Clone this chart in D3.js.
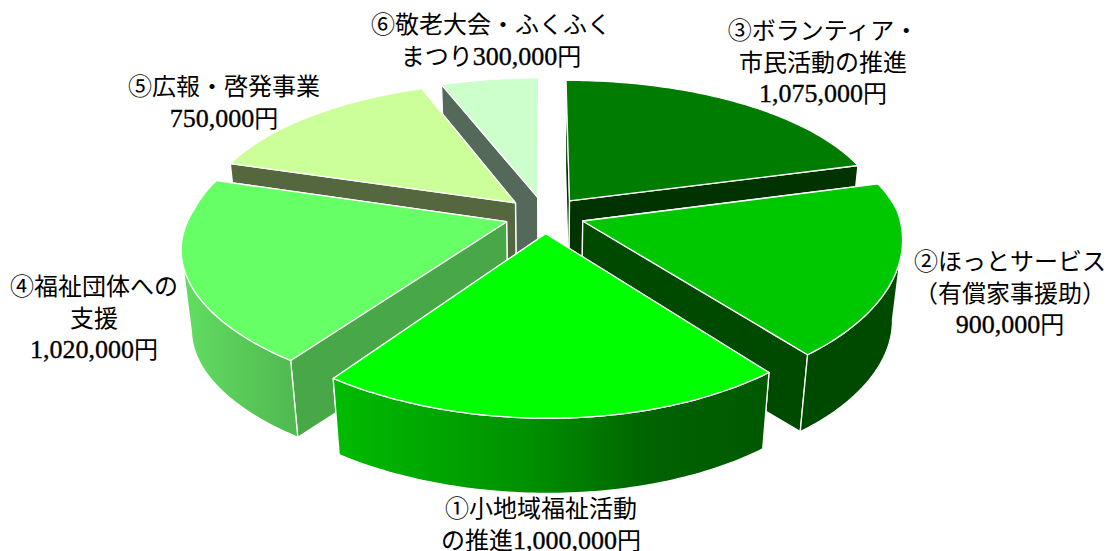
<!DOCTYPE html>
<html>
<head>
<meta charset="utf-8">
<script src="https://cdn.jsdelivr.net/npm/d3@7"></script>
<style>
  html, body { margin: 0; padding: 0; background: #fff; }
  text { font-family: "Noto Sans CJK JP", sans-serif; fill: #000; }
  .num { font-family: "Liberation Serif", serif; font-size: 26px; stroke: #000; stroke-width: .35px; }
</style>
</head>
<body>
<div id="chart"></div>
<script>
// clockwise from 12 o'clock, same order as the picture
const categories = ["③", "②", "①", "④", "⑤", "⑥"];
const values = [1075000, 900000, 1000000, 1020000, 750000, 300000];
const topColors = ["#007c00", "#00c800", "#00ff00", "#66ff66", "#ccff99", "#ccffcc"];
const sideColors = ["#003300", "#004a00", "#006600", "#48a848", "#55673f", "#55695a"];
// back slices first so the near ones cover them
const drawOrder = ["⑥", "⑤", "③", "④", "②", "①"];

const labelLines = [
    ["③ボランティア・", "市民活動の推進", "1,075,000円"],
    ["②ほっとサービス", "（有償家事援助）", "900,000円"],
    ["①小地域福祉活動", "の推進1,000,000円"],
    ["④福祉団体への", "支援", "1,020,000円"],
    ["⑤広報・啓発事業", "750,000円"],
    ["⑥敬老大会・ふくふく", "まつり300,000円"]
];
const labelX = [823, 1010, 541, 94, 224, 491];
const labelY = [39, 270, 517, 295, 95, 33];

const width = 1107;
const height = 551;

// tilted pie projection
const cx = 545, cy = 210;
const rx = 314, ry = 143.5;
const perspX = 0.17, perspY = 0.198;
const explode = 0.128;
const depth = 81, depthScale = 0.972;
const apexDrop = 5;   // apex sits a bit lower than the rim fit says
const nearShift = 14; // near side of the picture leans left
const nearTilt = 0.022; // and dips to the right

const svg = d3.select("#chart").append("svg")
    .attr("width", width)
    .attr("height", height)
    .attr("viewBox", "0 0 " + width + " " + height);

const defs = svg.append("defs");
const grad1 = defs.append("linearGradient").attr("id", "wall-1");
grad1.append("stop").attr("offset", "0%").attr("stop-color", "#00bc00");
grad1.append("stop").attr("offset", "45%").attr("stop-color", "#009000");
grad1.append("stop").attr("offset", "72%").attr("stop-color", "#006400");
grad1.append("stop").attr("offset", "100%").attr("stop-color", "#005800");
const grad4 = defs.append("linearGradient").attr("id", "wall-4");
grad4.append("stop").attr("offset", "0%").attr("stop-color", "#62de62");
grad4.append("stop").attr("offset", "100%").attr("stop-color", "#50b850");

const top_color = d3.scaleOrdinal().domain(categories).range(topColors);
const side_color = d3.scaleOrdinal().domain(categories).range(sideColors);
const outerFill = d => d.data === "①" ? "url(#wall-1)" : d.data === "④" ? "url(#wall-4)" : side_color(d.data);

const pie = d3.pie().sort(null).value((d, i) => values[i]).startAngle(0);
const arcs = pie(categories);

const line = d3.line().curve(d3.curveLinearClosed);

// ground point of a slice to screen, r is 0 at the apex and 1 on the rim
function project(d, angle, r, low) {
    const mid = (d.startAngle + d.endAngle) / 2;
    const X = explode * Math.sin(mid) + r * Math.sin(angle);
    const Y = explode * Math.cos(mid) + r * Math.cos(angle);
    const near = Math.max(0, -Y);
    const px = rx * X / (1 + perspX * Y) - nearShift * near;
    const py = -ry * Y / (1 + perspY * Y) + nearTilt * px * near + apexDrop * (1 - r);
    return low
        ? [cx + px * depthScale, cy + py * depthScale + depth]
        : [cx + px, cy + py];
}

function rimAngles(d) {
    const n = Math.ceil((d.endAngle - d.startAngle) * 60);
    return d3.range(n + 1).map(i => d.startAngle + (d.endAngle - d.startAngle) * i / n);
}

const slices = drawOrder.map(name => arcs.find(a => a.data === name));

const groups = svg.selectAll("g.slice")
    .data(slices)
    .join("g")
    .attr("class", "slice")
    .attr("stroke", "#fff")
    .attr("stroke-width", 1.3)
    .attr("stroke-linejoin", "round");

groups.each(function (d) {
    const g = d3.select(this);

    // radial walls, far one first
    const walls = [d.startAngle, d.endAngle].sort((a, b) => Math.cos(b) - Math.cos(a));
    walls.forEach(a => {
        g.append("path")
            .attr("d", line([project(d, a, 0), project(d, a, 1), project(d, a, 1, true), project(d, a, 0, true)]))
            .attr("fill", d.data === "①" ? "#006000" : side_color(d.data));
    });

    // rim wall, only the part turned to the viewer
    const angles = rimAngles(d);
    const front = angles.filter((a, i) => {
        const p = project(d, a, 1);
        const q = project(d, i < angles.length - 1 ? angles[i + 1] : a + 0.001, 1);
        return q[0] < p[0];
    });
    if (front.length > 1) {
        const upper = front.map(a => project(d, a, 1));
        const lower = front.map(a => project(d, a, 1, true)).reverse();
        g.append("path")
            .attr("d", line(upper.concat(lower)))
            .attr("fill", outerFill(d));
    }

    // top face
    const rim = angles.map(a => project(d, a, 1));
    g.append("path")
        .attr("d", line([project(d, d.startAngle, 0)].concat(rim)))
        .attr("fill", top_color(d.data));
});

// labels, digit runs get the wider latin face
labelLines.forEach((lines, i) => {
    const t = svg.append("text")
        .attr("x", labelX[i])
        .attr("y", labelY[i])
        .attr("text-anchor", "middle")
        .attr("font-size", 24);
    lines.forEach((s, j) => {
        const parts = s.split(/([0-9,]+)/).filter(p => p.length);
        parts.forEach((p, k) => {
            const span = t.append("tspan").text(p);
            if (/^[0-9,]+$/.test(p)) span.attr("class", "num");
            if (k === 0) span.attr("x", labelX[i]).attr("y", labelY[i] + j * 31.5);
        });
    });
});
</script>
</body>
</html>
